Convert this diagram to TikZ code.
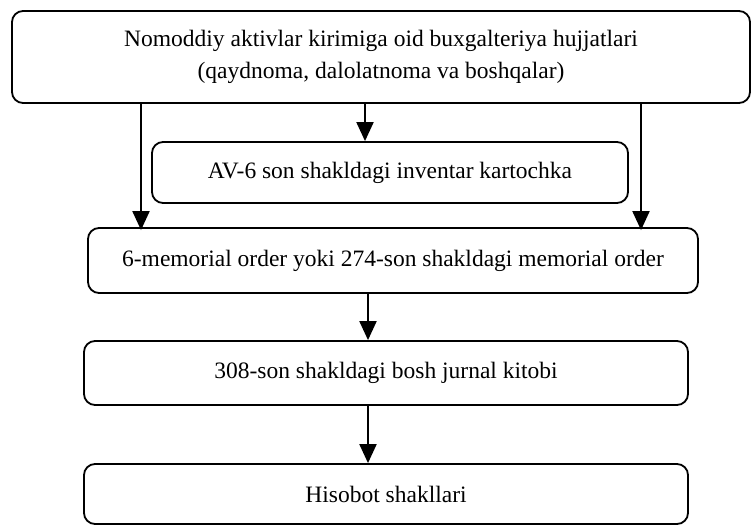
\documentclass[tikz,border=0pt]{standalone}
\usepackage{fontspec}
\setmainfont{Liberation Serif}
\usetikzlibrary{arrows.meta}
\tikzset{
  box/.style={draw, line width=1.8pt, rounded corners=11pt, inner sep=0pt,
    align=center, font=\fontsize{23.5}{32}\selectfont},
  arr/.style={line width=2pt, -{Triangle[length=19pt,width=17pt]}}
}
\begin{document}
\begin{tikzpicture}[x=1pt,y=-1pt]
\useasboundingbox (0,0) rectangle (751,526);
% flowchart boxes, centres and sizes in page units
\node[box, minimum width=738pt, minimum height=92pt] (src) at (381,57)
  {Nomoddiy aktivlar kirimiga oid buxgalteriya hujjatlari\\(qaydnoma, dalolatnoma va boshqalar)};
\node[box, minimum width=476pt, minimum height=61pt] (card) at (390,172.5)
  {AV-6 son shakldagi inventar kartochka};
\node[box, minimum width=610pt, minimum height=65pt] (memo) at (393,260.5)
  {6-memorial order yoki 274-son shakldagi memorial order};
\node[box, minimum width=604pt, minimum height=64pt] (journal) at (386,373)
  {308-son shakldagi bosh jurnal kitobi};
\node[box, minimum width=604pt, minimum height=60pt] (report) at (386,494)
  {Hisobot shakllari};
% columns of the connectors
\coordinate (colL) at (141,0);
\coordinate (colM) at (365,0);
\coordinate (colR) at (641,0);
\coordinate (colC) at (368,0);
% connectors
\draw[arr] (src.south -| colL) -- ([yshift=-3pt]memo.north -| colL);
\draw[arr] (src.south -| colR) -- ([yshift=-3pt]memo.north -| colR);
\draw[arr] (src.south -| colM) -- (card.north -| colM);
\draw[arr] (memo.south -| colC) -- (journal.north -| colC);
\draw[arr] (journal.south -| colC) -- (report.north -| colC);
\end{tikzpicture}
\end{document}
